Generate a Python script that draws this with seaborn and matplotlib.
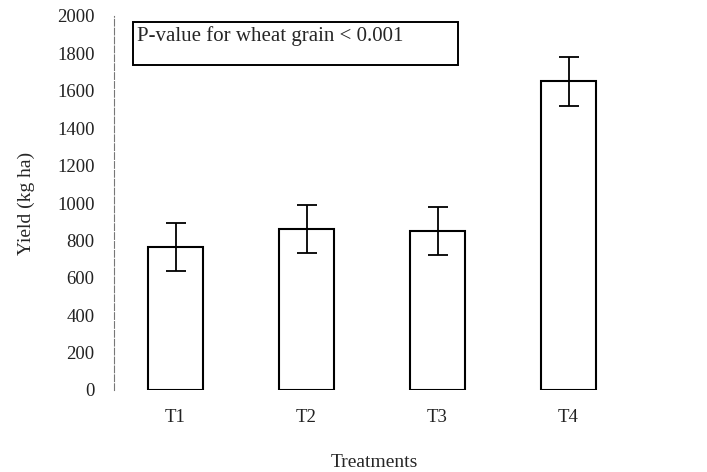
import matplotlib
matplotlib.use('Agg')
import matplotlib.pyplot as plt
from matplotlib.patches import Rectangle
import seaborn as sns
import pandas as pd

# 数据
treatments = ['T1', 'T2', 'T3', 'T4']
yield_mean = [765, 860, 850, 1650]
yield_err = [130, 130, 128, 130]

df = pd.DataFrame({'Treatment': treatments, 'Yield': yield_mean})

sns.set_style('white')
plt.rcParams['font.family'] = ['Liberation Serif', 'DejaVu Serif']

fig = plt.figure(figsize=(7.07, 4.72), dpi=100)
ax = fig.add_axes([114 / 707, 82 / 472, 520 / 707, 374 / 472])

sns.barplot(data=df, x='Treatment', y='Yield', color='white', edgecolor='black',
            linewidth=1.5, width=0.415, ax=ax, errorbar=None)
ax.errorbar(range(len(treatments)), yield_mean, yerr=yield_err, fmt='none',
            ecolor='black', elinewidth=1.3, capsize=7, capthick=1.3)

ax.set_ylim(0, 2000)
ax.set_xlim(-0.47, 3.5)
ax.set_yticks(range(0, 2001, 200))
ax.tick_params(axis='y', length=0, pad=14, labelsize=13.5, colors='#222222')
ax.tick_params(axis='x', length=0, pad=14, labelsize=13.5, colors='#222222')
# 类别之间的小刻度
ax.set_xticks([0.5, 1.5, 2.5], minor=True)
ax.tick_params(axis='x', which='minor', length=3, width=0.8, color='#888888')

for s in ['top', 'right', 'bottom']:
    ax.spines[s].set_visible(False)
ax.spines['left'].set_color('#777777')
ax.spines['left'].set_linewidth(0.8)
ax.spines['left'].set_linestyle((0, (6, 2)))

ax.set_ylabel('Yield (kg ha)', fontsize=14, labelpad=16)
ax.set_xlabel('Treatments', fontsize=14, labelpad=20)

# 注释框
ax.add_patch(Rectangle((0.037, 0.869), 0.625, 0.115, transform=ax.transAxes,
                       facecolor='white', edgecolor='black', linewidth=1.4, zorder=5))
ax.text(0.045, 0.972, 'P-value for wheat grain < 0.001', transform=ax.transAxes,
        fontsize=15, va='top', ha='left', zorder=6)

plt.savefig('out.png', dpi=100)
plt.close()
